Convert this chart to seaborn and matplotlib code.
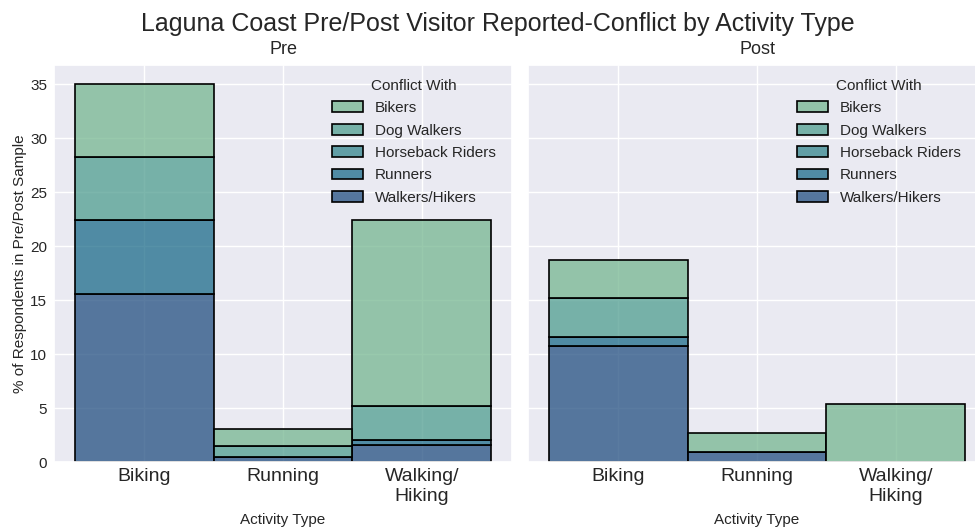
import matplotlib
matplotlib.use('Agg')
import matplotlib.pyplot as plt
import seaborn as sns
import pandas as pd

activities = ['Biking', 'Running', 'Walking/\nHiking']
conflicts = ['Bikers', 'Dog Walkers', 'Horseback Riders', 'Runners', 'Walkers/Hikers']

# % of respondents, rows = activity, columns follow `conflicts`
pre_pct = [
    [6.8, 5.85, 0.0, 6.8, 15.6],
    [1.55, 1.0, 0.0, 0.0, 0.48],
    [17.27, 3.09, 0.0, 0.52, 1.55],
]
post_pct = [
    [3.57, 3.57, 0.0, 0.89, 10.71],
    [1.79, 0.0, 0.0, 0.0, 0.89],
    [5.36, 0.0, 0.0, 0.0, 0.0],
]

def to_long(table):
    rows = []
    for act, vals in zip(activities, table):
        for c, v in zip(conflicts, vals):
            rows.append({'Activity Type': act, 'Conflict With': c, 'pct': v})
    return pd.DataFrame(rows)

sns.set_theme(style='darkgrid')
plt.rcParams['font.family'] = ['Liberation Sans', 'DejaVu Sans']

fig, axes = plt.subplots(1, 2, figsize=(9.75, 5.27), sharey=True)
fig.subplots_adjust(left=0.0554, right=1.0113, bottom=0.1233, top=0.8767, wspace=0.035)

for ax, table, title in zip(axes, [pre_pct, post_pct], ['Pre', 'Post']):
    df = to_long(table)
    df['Activity Type'] = pd.Categorical(df['Activity Type'], categories=activities)
    sns.histplot(data=df, x='Activity Type', weights='pct', hue='Conflict With',
                 hue_order=conflicts, multiple='stack', palette='crest',
                 edgecolor='black', linewidth=1.2, ax=ax)
    ax.set_title(title, fontsize=13, pad=8)
    ax.set_xlabel('Activity Type', fontsize=11, labelpad=6)
    ax.set_ylabel('% of Respondents in Pre/Post Sample', fontsize=11, labelpad=2)
    ax.tick_params(axis='x', labelsize=14, pad=-1.5)
    ax.tick_params(axis='y', labelsize=11, pad=-1)
    sns.move_legend(ax, 'upper right', frameon=False, fontsize=11, title_fontsize=11,
                    labelspacing=0.55,
                    bbox_to_anchor=(0.995 if title == 'Pre' else 0.975, 1.0))

axes[0].set_yticks([0, 5, 10, 15, 20, 25, 30, 35])
fig.suptitle('Laguna Coast Pre/Post Visitor Reported-Conflict by Activity Type',
             fontsize=18, x=0.511, y=0.977)

plt.savefig('out.png', dpi=100)
